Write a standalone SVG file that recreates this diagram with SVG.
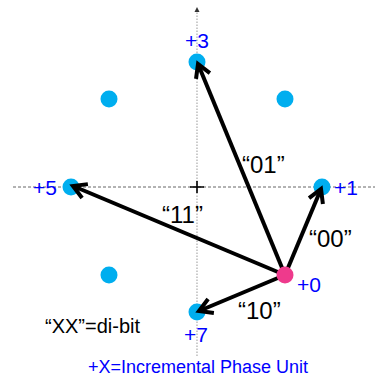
<svg xmlns="http://www.w3.org/2000/svg" width="375" height="377" viewBox="0 0 375 377">
<style>
.pt{fill:#00AEEF}
.lbl{font-family:"Liberation Sans",Arial,sans-serif;font-size:21px;fill:#0000FF}
.bit{font-family:"Liberation Sans",Arial,sans-serif;font-size:24px;fill:#000}
.vec{stroke:#000;stroke-width:4;fill:none;marker-end:url(#ah)}
</style>
<defs>
<marker id="ah" markerUnits="userSpaceOnUse" viewBox="-16 -10 20 20" markerWidth="20" markerHeight="20" refX="0" refY="0" orient="auto">
<path d="M-13,-7.5 L0,0 L-13,7.5" fill="none" stroke="#000" stroke-width="4" stroke-linejoin="miter"/>
</marker>
<marker id="ax" markerUnits="userSpaceOnUse" viewBox="-4 -3 5 6" markerWidth="5" markerHeight="6" refX="0" refY="0" orient="auto">
<path d="M-4,-2.5 L1,0 L-4,2.5 Z" fill="#333"/>
</marker>
</defs>
<rect width="375" height="377" fill="#fff"/>
<g id="axes">
<line x1="197" y1="356" x2="197" y2="8" stroke="#aaa" stroke-width="1.2" stroke-dasharray="1.5,1.5" marker-end="url(#ax)"/>
<line x1="13" y1="187" x2="375" y2="187" stroke="#666" stroke-width="1" stroke-dasharray="3,2"/>
<path d="M190,187 H204 M197,181 V193" stroke="#000" stroke-width="1.6"/>
</g>
<g id="points">
<g id="p3"><circle class="pt" cx="197" cy="62" r="8.5"/><text class="lbl" x="197" y="48" text-anchor="middle">+3</text></g>
<g id="p2"><circle class="pt" cx="109" cy="99" r="8.5"/></g>
<g id="p4"><circle class="pt" cx="285" cy="99" r="8.5"/></g>
<g id="p5"><circle class="pt" cx="71" cy="187" r="8.5"/><text class="lbl" x="57" y="195" text-anchor="end">+5</text></g>
<g id="p1"><circle class="pt" cx="322" cy="187" r="8.5"/><text class="lbl" x="334" y="195">+1</text></g>
<g id="p6"><circle class="pt" cx="109" cy="275" r="8.5"/></g>
<g id="p7"><circle class="pt" cx="197" cy="312" r="8.5"/><text class="lbl" x="196" y="342" text-anchor="middle">+7</text></g>
</g>
<g id="connectors">
<line class="vec" x1="285" y1="275" x2="198" y2="64"/>
<line class="vec" x1="285" y1="275" x2="73" y2="186"/>
<line class="vec" x1="285" y1="275" x2="321" y2="189"/>
<line class="vec" x1="285" y1="275" x2="199" y2="311"/>
</g>
<g id="p0"><circle cx="285" cy="275" r="8.5" fill="#EE3A8C"/><text class="lbl" x="297" y="292">+0</text></g>
<g id="labels">
<text class="bit" x="242" y="173">“01”</text>
<text class="bit" x="162" y="223">“11”</text>
<text class="bit" x="309" y="247">“00”</text>
<text class="bit" x="238" y="319">“10”</text>
<text x="45" y="333" font-family="'Liberation Sans',Arial,sans-serif" font-size="20" fill="#000">“XX”=di-bit</text>
<text x="88" y="373" font-family="'Liberation Sans',Arial,sans-serif" font-size="18" fill="#0000FF">+X=Incremental Phase Unit</text>
</g>
</svg>
